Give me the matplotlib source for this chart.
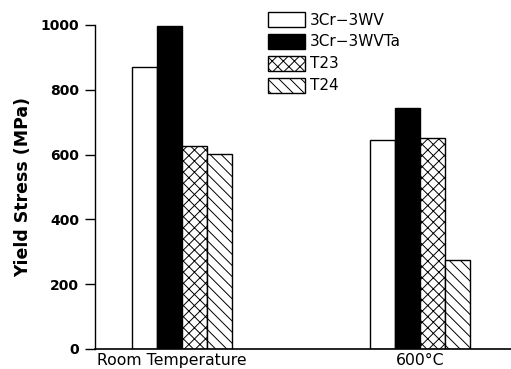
import numpy as np
import matplotlib
matplotlib.use("Agg")
import matplotlib.pyplot as plt
from matplotlib.transforms import ScaledTranslation

# values (MPa)
conditions = ["Room Temperature", "600\u00b0C"]
alloys = ["3Cr\u22123WV", "3Cr\u22123WVTa", "T23", "T24"]
ys_3crwv = [870, 645]
ys_3crwvta = [997, 745]
ys_t23 = [627, 650]
ys_t24 = [602, 276]

plt.rcParams['font.family'] = ['DejaVu Sans']
plt.rcParams['hatch.linewidth'] = 0.7
plt.rcParams['hatch.color'] = 'black'

fig = plt.figure(figsize=(5.11, 3.69), dpi=100)
ax = fig.add_axes([95 / 511, 1 - 349 / 369, 1 - 95 / 511, (349 - 25) / 369])

x = np.arange(len(conditions))
w = 0.105
series = [ys_3crwv, ys_3crwvta, ys_t23, ys_t24]
faces = ['white', 'black', 'white', 'white']
hatches = [None, None, 'xxx', '\\\\\\']
for i, (vals, fc, h, lab) in enumerate(zip(series, faces, hatches, alloys)):
    ax.bar(x + (i - 1.5) * w, vals, width=w, color=fc, edgecolor='black',
           linewidth=1.0, hatch=h, label=lab)

ax.set_xlim(-0.3655, 1.382)
ax.set_ylim(0, 1000)
ax.set_yticks(range(0, 1001, 200))
ax.set_xticks(x)
ax.set_xticklabels(conditions, fontsize=11.3)
ax.tick_params(axis='x', length=0, pad=3)
ax.tick_params(axis='y', direction='out', length=7.5, width=1, pad=4, labelsize=10)
for t in ax.get_yticklabels():
    t.set_fontweight('bold')
# the first category label sits a little left of its bar group
lab0 = ax.get_xticklabels()[0]
lab0.set_transform(lab0.get_transform() + ScaledTranslation(-10 / 100, 0, fig.dpi_scale_trans))
ax.spines['top'].set_visible(False)
ax.spines['right'].set_visible(False)
ax.spines['left'].set_linewidth(1.0)
ax.spines['bottom'].set_linewidth(1.2)
ax.set_ylabel("Yield Stress (MPa)", fontsize=12.5, fontweight='bold')
ax.yaxis.set_label_coords(-(95 - 32) / 416, 0.5)

fig.legend(loc='upper left', bbox_to_anchor=(268 / 511, 1 - 12 / 369),
           frameon=False, fontsize=11, handlelength=2.4, handleheight=1.1,
           labelspacing=0.42, handletextpad=0.35, borderpad=0, borderaxespad=0)

fig.savefig("out.png", dpi=100)
